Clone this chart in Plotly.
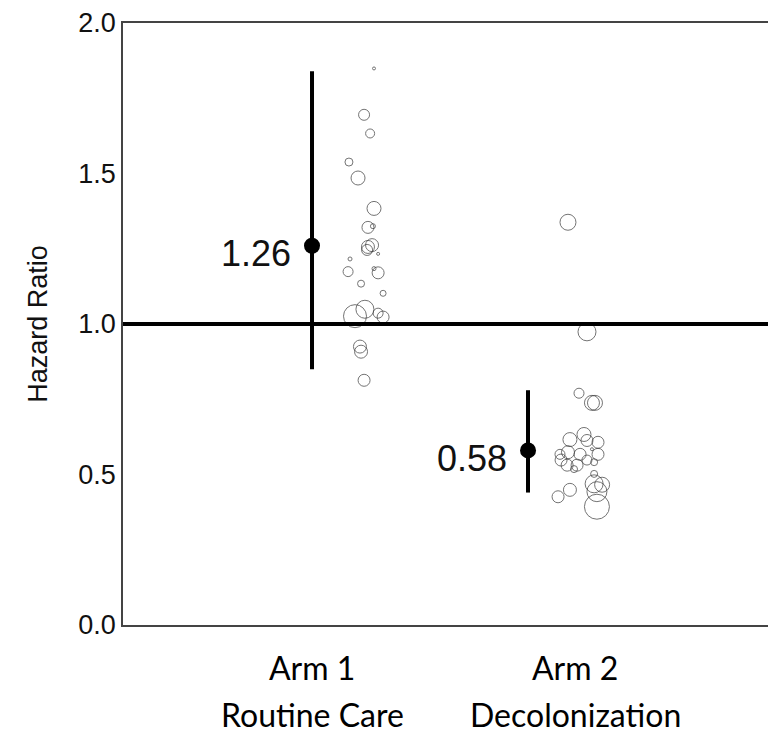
import plotly.graph_objects as go

# ---- data ----
arm_labels = ["Arm 1", "Arm 2"]
arm_sublabels = ["Routine Care", "Decolonization"]
arm_pos = [1.0, 2.0]
label_pos = [1.0, 2.218]
hr = [1.26, 0.58]
hr_low = [0.85, 0.44]
hr_high = [1.84, 0.78]
hr_text = ["1.26", "0.58"]
REF_HR = 1.0

# individual (hospital-level) estimates, bubble size ~ weight
arm1_x = [1.287, 1.241, 1.269, 1.171, 1.213, 1.287, 1.259, 1.282, 1.259, 1.278,
          1.255, 1.306, 1.176, 1.167, 1.306, 1.287, 1.227, 1.329, 1.199, 1.245,
          1.306, 1.329, 1.222, 1.227, 1.241]
arm1_hr = [1.849, 1.695, 1.633, 1.538, 1.485, 1.384, 1.321, 1.325, 1.256, 1.262,
           1.246, 1.233, 1.216, 1.174, 1.170, 1.184, 1.134, 1.102, 1.026, 1.049,
           1.036, 1.023, 0.925, 0.908, 0.813]
arm1_w = [3, 11, 9, 8, 14, 14, 12, 5, 13, 13,
          11, 3, 4, 10, 12, 4, 7, 6, 23, 18,
          10, 12, 13, 13, 12]

arm2_x = [2.185, 2.273, 2.236, 2.296, 2.310, 2.194, 2.259, 2.273, 2.324, 2.296,
          2.148, 2.185, 2.241, 2.324, 2.153, 2.181, 2.227, 2.213, 2.306, 2.273,
          2.306, 2.306, 2.343, 2.194, 2.139, 2.319, 2.319]
arm2_hr = [1.338, 0.974, 0.770, 0.738, 0.738, 0.616, 0.633, 0.613, 0.607, 0.584,
           0.567, 0.574, 0.567, 0.567, 0.548, 0.531, 0.531, 0.518, 0.541, 0.548,
           0.502, 0.469, 0.466, 0.449, 0.426, 0.393, 0.443]
arm2_w = [16, 18, 10, 15, 15, 14, 14, 12, 12, 3,
          10, 13, 12, 12, 12, 12, 12, 7, 7, 10,
          7, 18, 15, 13, 12, 25, 20]

y_ticks = [0.0, 0.5, 1.0, 1.5, 2.0]

# ---- figure ----
fig = go.Figure()

for xs, ys, ws in [(arm1_x, arm1_hr, arm1_w), (arm2_x, arm2_hr, arm2_w)]:
    fig.add_trace(go.Scatter(
        x=xs, y=ys, mode="markers",
        marker=dict(size=ws, sizemode="diameter", color="rgba(0,0,0,0)",
                    line=dict(color="#3a3a3a", width=1)),
        showlegend=False, hoverinfo="y"))

fig.add_trace(go.Scatter(
    x=arm_pos, y=hr, mode="markers",
    marker=dict(size=16, color="black"),
    error_y=dict(type="data", symmetric=False,
                 array=[h - m for h, m in zip(hr_high, hr)],
                 arrayminus=[m - l for m, l in zip(hr, hr_low)],
                 thickness=4, width=0, color="black"),
    showlegend=False))

fig.add_shape(type="line", xref="paper", x0=0, x1=1, yref="y", y0=REF_HR, y1=REF_HR,
              line=dict(color="black", width=4))

for xp, yv, t in zip(arm_pos, hr, hr_text):
    fig.add_annotation(x=xp, y=yv, text=t, showarrow=False, xanchor="right",
                       yanchor="middle", xshift=-19, yshift=-8,
                       font=dict(family="Arial", size=36, color="#111"))

for xp, a, s in zip(label_pos, arm_labels, arm_sublabels):
    fig.add_annotation(x=xp, y=0, yref="paper", text=a, showarrow=False,
                       xanchor="center", yanchor="middle", yshift=-42,
                       font=dict(family="Lato", size=32, color="black"))
    fig.add_annotation(x=xp, y=0, yref="paper", text=s, showarrow=False,
                       xanchor="center", yanchor="middle", yshift=-89,
                       font=dict(family="Lato", size=32, color="black"))

fig.update_xaxes(range=[0.125, 3.148], showticklabels=False, showgrid=False,
                 zeroline=False, showline=True, mirror=True,
                 linecolor="#444", linewidth=1.5, ticks="", automargin=False)
fig.update_yaxes(range=[0, 2.0], tickvals=y_ticks, tickformat=".1f",
                 ticklabeloverflow="allow", automargin=False,
                 showgrid=False, zeroline=False, showline=True, mirror=False,
                 linecolor="#444", linewidth=1.5, ticks="",
                 tickfont=dict(family="Arial", size=27, color="#111"),
                 title=dict(text="Hazard Ratio", standoff=23,
                            font=dict(family="Arial", size=27, color="#111")))

fig.update_layout(width=768, height=729, margin=dict(l=115, r=0, t=15, b=112),
                  plot_bgcolor="white", paper_bgcolor="white")

fig.write_html("out.html")
